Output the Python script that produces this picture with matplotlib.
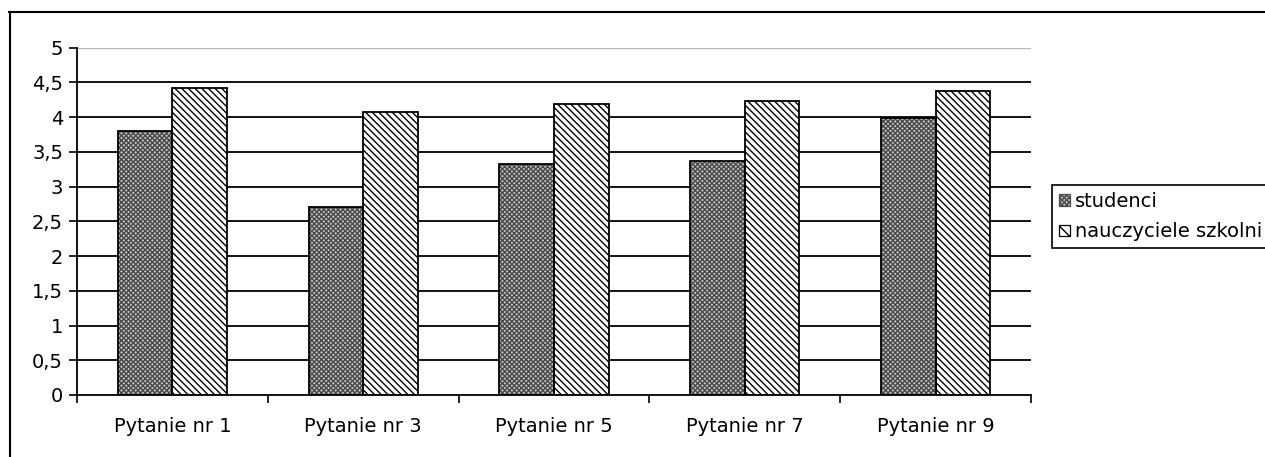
import matplotlib
matplotlib.use("Agg")
import matplotlib.pyplot as plt
import numpy as np
from matplotlib.lines import Line2D
from matplotlib.patches import Patch

categories = ["Pytanie nr 1", "Pytanie nr 3", "Pytanie nr 5", "Pytanie nr 7", "Pytanie nr 9"]
studenci = [3.80, 2.71, 3.33, 3.36, 3.99]
nauczyciele = [4.42, 4.07, 4.18, 4.23, 4.37]
series_names = ["studenci", "nauczyciele szkolni"]
yticks = [0, 0.5, 1, 1.5, 2, 2.5, 3, 3.5, 4, 4.5, 5]
ytick_labels = ["0", "0,5", "1", "1,5", "2", "2,5", "3", "3,5", "4", "4,5", "5"]

plt.rcParams['font.family'] = ['DejaVu Sans']
plt.rcParams['hatch.linewidth'] = 1.0

W, H = 1265, 457
fig = plt.figure(figsize=(W / 100, H / 100), dpi=100)
ax = fig.add_axes([77 / W, 1 - 395 / H, (1031 - 77) / W, (395 - 47.5) / H])

x = np.arange(len(categories))
bw = 0.286
stud_face = "#c4c4c4"
stud_hatch = "#4a4a4a"
diag = "\\\\\\\\\\"
# hatched fills (hatch colour taken from edgecolor), then black outlines on top
ax.bar(x - bw / 2, studenci, bw, facecolor=stud_face, edgecolor=stud_hatch, hatch="xxxxxxx",
       linewidth=0, zorder=3)
ax.bar(x + bw / 2, nauczyciele, bw, facecolor="white", edgecolor="black", hatch=diag,
       linewidth=0, zorder=3)
ax.bar(x - bw / 2, studenci, bw, fill=False, edgecolor="black", linewidth=1.3, zorder=4)
ax.bar(x + bw / 2, nauczyciele, bw, fill=False, edgecolor="black", linewidth=1.3, zorder=4)

ax.set_xlim(-0.5, len(categories) - 0.5)
ax.set_ylim(0, 5)
ax.set_yticks(yticks)
ax.set_yticklabels(ytick_labels, fontsize=14)
for v in yticks[1:-1]:
    ax.axhline(v, color="black", linewidth=1.3, zorder=1)
ax.axhline(5, color="#b8b8b8", linewidth=1.6, zorder=1)

ax.set_xticks(np.arange(len(categories) + 1) - 0.5)
ax.set_xticklabels([])
ax.set_xticks(x, minor=True)
ax.set_xticklabels(categories, minor=True, fontsize=14)
ax.tick_params(axis="x", which="minor", length=0, pad=16)
ax.tick_params(axis="x", which="major", length=6, width=1.2, direction="out")
ax.tick_params(axis="y", length=6, width=1.2, direction="out", pad=4)

for s in ["top", "right"]:
    ax.spines[s].set_visible(False)
for s in ["left", "bottom"]:
    ax.spines[s].set_linewidth(1.3)
    ax.spines[s].set_zorder(5)

handles = [
    Patch(facecolor=stud_face, edgecolor=stud_hatch, hatch="xxxxxxx", linewidth=0),
    Patch(facecolor="white", edgecolor="black", hatch="\\\\\\", linewidth=0),
]
leg = fig.legend(handles, series_names, loc="upper left", bbox_to_anchor=(1052 / W, 1 - 185 / H),
                 bbox_transform=fig.transFigure, fontsize=14, frameon=True, fancybox=False,
                 edgecolor="black", framealpha=1, borderaxespad=0, borderpad=0.35,
                 handlelength=0.55, handleheight=0.55, handletextpad=0.3, labelspacing=0.6)
leg.get_frame().set_linewidth(1.2)
for h in leg.legend_handles:
    h.set_linewidth(0.9)

# outer chart frame (cut at right and bottom)
fig.add_artist(Line2D([9.5 / W, 9.5 / W], [0, 1 - 12 / H], transform=fig.transFigure,
                      color="black", linewidth=1.5))
fig.add_artist(Line2D([9 / W, 1], [1 - 12 / H, 1 - 12 / H], transform=fig.transFigure,
                      color="black", linewidth=1.5))

fig.savefig("out.png", dpi=100)
